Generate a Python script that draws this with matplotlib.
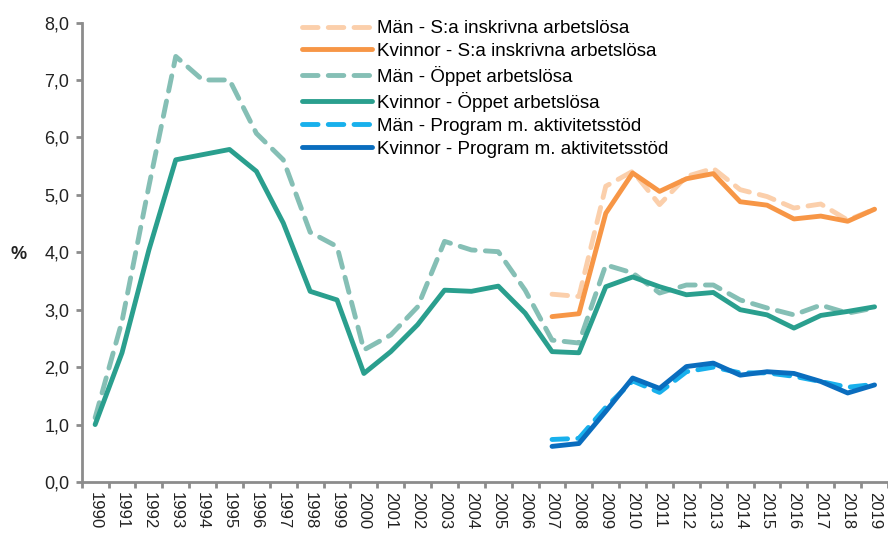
import numpy as np
import matplotlib.pyplot as plt

plt.rcParams['font.family'] = ['Liberation Sans', 'DejaVu Sans']

# Data
years = list(range(1990, 2020))
man_oppet = [1.12, 2.8, 5.15, 7.41, 7.0, 7.0, 6.07, 5.61, 4.35, 4.10,
             2.30, 2.56, 3.05, 4.19, 4.04, 4.01, 3.34, 2.47, 2.42, 3.78,
             3.64, 3.29, 3.43, 3.43, 3.17, 3.03, 2.91, 3.08, 2.94, 3.03]
kvinnor_oppet = [1.0, 2.25, 4.04, 5.61, 5.70, 5.79, 5.41, 4.51, 3.32, 3.17,
                 1.89, 2.27, 2.74, 3.34, 3.32, 3.41, 2.94, 2.27, 2.25, 3.40,
                 3.57, 3.40, 3.26, 3.30, 3.00, 2.91, 2.68, 2.90, 2.97, 3.05]
years2 = list(range(2007, 2020))
man_sa = [3.27, 3.23, 5.15, 5.41, 4.83, 5.32, 5.46, 5.09, 4.97, 4.77, 4.84, 4.56, 4.75]
kvinnor_sa = [2.88, 2.93, 4.68, 5.38, 5.06, 5.28, 5.37, 4.88, 4.82, 4.58, 4.63, 4.54, 4.75]
man_prog = [0.74, 0.76, 1.30, 1.76, 1.56, 1.92, 2.00, 1.90, 1.90, 1.84, 1.75, 1.65, 1.70]
kvinnor_prog = [0.62, 0.67, 1.23, 1.81, 1.63, 2.01, 2.07, 1.86, 1.92, 1.89, 1.75, 1.55, 1.69]

fig = plt.figure(figsize=(8.88, 5.33), dpi=100)
ax = fig.add_axes([0.092, 0.0957, 0.908, 0.862])

x1 = np.arange(len(years))
x2 = np.array([years.index(y) for y in years2])
lw = 3.5
ds = (3.2, 2.1)

ax.plot(x2, man_sa, color='#FBCFAB', lw=lw, dashes=ds, dash_capstyle='round',
        label='Män - S:a inskrivna arbetslösa')
ax.plot(x2, kvinnor_sa, color='#F79646', lw=lw, solid_capstyle='round',
        label='Kvinnor - S:a inskrivna arbetslösa')
ax.plot(x1, man_oppet, color='#85BFB5', lw=lw, dashes=ds, dash_capstyle='round',
        label='Män - Öppet arbetslösa')
ax.plot(x1, kvinnor_oppet, color='#2A9F8E', lw=lw, solid_capstyle='round',
        label='Kvinnor - Öppet arbetslösa')
ax.plot(x2, man_prog, color='#18B0EC', lw=lw, dashes=ds, dash_capstyle='round',
        label='Män - Program m. aktivitetsstöd')
ax.plot(x2, kvinnor_prog, color='#0A6DBE', lw=lw, solid_capstyle='round',
        label='Kvinnor - Program m. aktivitetsstöd')

ax.set_xlim(-0.5, len(years) - 0.5)
ax.set_ylim(0, 8)
ax.set_yticks(np.arange(0, 9, 1))
ax.set_yticklabels([('%.1f' % v).replace('.', ',') for v in range(9)], fontsize=13, color='#222222')
ax.set_xticks(x1)
ax.set_xticklabels([str(y) for y in years], rotation=270, fontsize=12, color='#222222')
ax.set_xticks(np.arange(-0.5, len(years), 1), minor=True)
ax.tick_params(axis='x', which='major', length=0, pad=7)
ax.tick_params(axis='x', which='minor', length=4, width=2, color='#8C8C8C')
ax.tick_params(axis='y', length=4, width=2, color='#8C8C8C', pad=5)

for s in ['top', 'right']:
    ax.spines[s].set_visible(False)
for s in ['left', 'bottom']:
    ax.spines[s].set_color('#8C8C8C')
    ax.spines[s].set_linewidth(2)

fig.text(0.0214, 0.523, '%', fontsize=13, fontweight='bold', va='center', ha='center', color='#222222')

ax.legend(loc='upper left', bbox_to_anchor=(0.2645, 1.022), frameon=False, fontsize=13.5,
          handlelength=3.7, handletextpad=0.3, labelspacing=0.31, borderaxespad=0)

fig.savefig('out.png', dpi=100)
